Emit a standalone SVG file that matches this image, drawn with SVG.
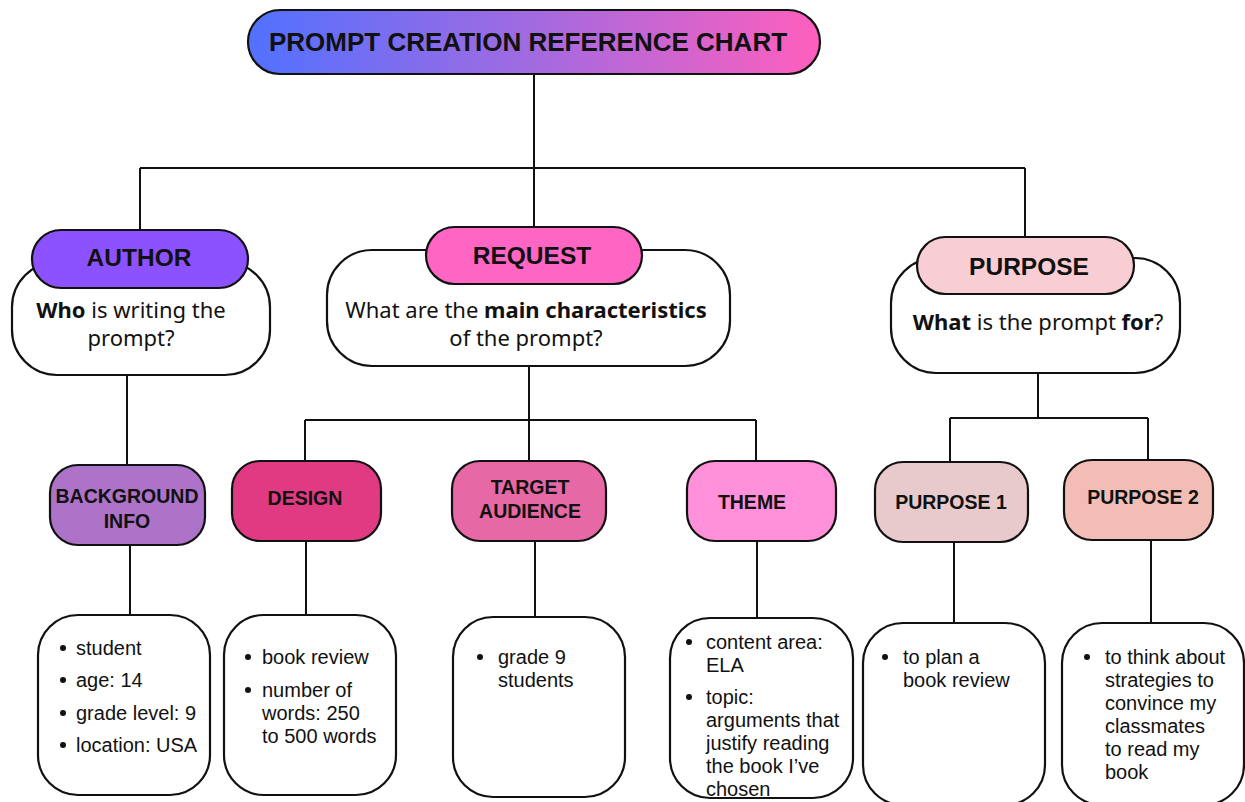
<svg xmlns="http://www.w3.org/2000/svg" width="1245" height="802" viewBox="0 0 1245 802">
<defs>
<linearGradient id="tg" x1="0" y1="0" x2="1" y2="0">
<stop offset="0" stop-color="#5271ff"/>
<stop offset="0.5" stop-color="#a36ae0"/>
<stop offset="1" stop-color="#ff5fbd"/>
</linearGradient>
</defs>
<style>
.b{stroke:#111;stroke-width:2.2;}
.w{fill:#fff;}
.h{font-family:"Liberation Sans",Arial,sans-serif;font-weight:bold;fill:#111;text-anchor:middle;}
.q{font-family:"Noto Sans","Open Sans",sans-serif;font-size:22px;fill:#111;text-anchor:middle;}
.t{font-family:"Liberation Sans",Arial,sans-serif;font-size:20px;fill:#111;}
.c{stroke:#111;stroke-width:2;fill:none;}
</style>
<rect width="1245" height="802" fill="#fff"/>
<g id="connectors">
<path class="c" d="M534 74V168M140 168H1025M140 168V230M534 168V228M1025 168V237"/>
<path class="c" d="M127 375V465"/>
<path class="c" d="M529 366V461M305 420H756M305 420V461M756 420V461"/>
<path class="c" d="M1038 373V418M950 418H1148M950 418V462M1148 418V460"/>
<path class="c" d="M130 545V615M306 541V617M535 541V617M757 541V618M954 542V623M1151 540V623"/>
</g>
<g id="title">
<rect class="b" x="248" y="10" width="572" height="64" rx="32" fill="url(#tg)"/>
<text class="h" x="528" y="51" font-size="26">PROMPT CREATION REFERENCE CHART</text>
</g>
<g id="author">
<rect class="b w" x="12" y="262" width="258" height="113" rx="45"/>
<text class="q" x="131" y="318"><tspan font-weight="bold">Who</tspan> is writing the</text>
<text class="q" x="131" y="346">prompt?</text>
<rect class="b" x="32" y="230" width="216" height="58" rx="29" fill="#8c52ff"/>
<text class="h" x="139" y="266" font-size="24.5">AUTHOR</text>
</g>
<g id="request">
<rect class="b w" x="327" y="250" width="403" height="116" rx="45"/>
<text class="q" x="526" y="318">What are the <tspan font-weight="bold">main characteristics</tspan></text>
<text class="q" x="526" y="346">of the prompt?</text>
<rect class="b" x="426" y="227" width="216" height="57" rx="28.5" fill="#ff66c4"/>
<text class="h" x="532" y="264" font-size="24.5">REQUEST</text>
</g>
<g id="purpose">
<rect class="b w" x="891" y="258" width="289" height="115" rx="45"/>
<text class="q" x="1038" y="330"><tspan font-weight="bold">What</tspan> is the prompt <tspan font-weight="bold">for</tspan>?</text>
<rect class="b" x="917" y="237" width="217" height="57" rx="28.5" fill="#f8cdd3"/>
<text class="h" x="1029" y="275" font-size="24.5">PURPOSE</text>
</g>
<g id="background-info">
<rect class="b" x="50" y="465" width="155" height="80" rx="28" fill="#ad73c9"/>
<text class="h" x="127" y="503" font-size="19.5">BACKGROUND</text>
<text class="h" x="127" y="528" font-size="19.5">INFO</text>
</g>
<g id="design">
<rect class="b" x="232" y="461" width="149" height="80" rx="28" fill="#e03a83"/>
<text class="h" x="305" y="505" font-size="19.5">DESIGN</text>
</g>
<g id="target-audience">
<rect class="b" x="452" y="461" width="154" height="80" rx="28" fill="#e669a6"/>
<text class="h" x="530" y="494" font-size="19.5">TARGET</text>
<text class="h" x="530" y="518" font-size="19.5">AUDIENCE</text>
</g>
<g id="theme">
<rect class="b" x="687" y="461" width="149" height="80" rx="28" fill="#ff90d9"/>
<text class="h" x="752" y="509" font-size="19.5">THEME</text>
</g>
<g id="purpose-1">
<rect class="b" x="875" y="462" width="153" height="80" rx="28" fill="#e8c9cc"/>
<text class="h" x="951" y="509" font-size="19.5">PURPOSE 1</text>
</g>
<g id="purpose-2">
<rect class="b" x="1064" y="460" width="149" height="80" rx="28" fill="#f2bdb4"/>
<text class="h" x="1143" y="504" font-size="19.5">PURPOSE 2</text>
</g>
<g id="background-list">
<rect class="b w" x="38" y="615" width="172" height="180" rx="40"/>
<g class="t">
<circle cx="63" cy="648" r="3"/><text x="76" y="655">student</text>
<circle cx="63" cy="680" r="3"/><text x="76" y="687">age: 14</text>
<circle cx="63" cy="713" r="3"/><text x="76" y="720">grade level: 9</text>
<circle cx="63" cy="745" r="3"/><text x="76" y="752">location: USA</text>
</g>
</g>
<g id="design-list">
<rect class="b w" x="224" y="615" width="172" height="180" rx="40"/>
<g class="t">
<circle cx="248" cy="657" r="3"/><text x="262" y="664">book review</text>
<circle cx="248" cy="690" r="3"/><text x="262" y="697">number of</text>
<text x="262" y="720">words: 250</text>
<text x="262" y="743">to 500 words</text>
</g>
</g>
<g id="target-list">
<rect class="b w" x="453" y="617" width="172" height="180" rx="40"/>
<g class="t">
<circle cx="480" cy="657" r="3"/><text x="498" y="664">grade 9</text>
<text x="498" y="687">students</text>
</g>
</g>
<g id="theme-list">
<rect class="b w" x="670" y="618" width="183" height="180" rx="40"/>
<g class="t">
<circle cx="689" cy="642" r="3"/><text x="706" y="649">content area:</text>
<text x="706" y="672">ELA</text>
<circle cx="689" cy="697" r="3"/><text x="706" y="704">topic:</text>
<text x="706" y="727">arguments that</text>
<text x="706" y="750">justify reading</text>
<text x="706" y="773">the book I’ve</text>
<text x="706" y="796">chosen</text>
</g>
</g>
<g id="purpose1-list">
<rect class="b w" x="863" y="623" width="182" height="182" rx="40"/>
<g class="t">
<circle cx="885" cy="657" r="3"/><text x="903" y="664">to plan a</text>
<text x="903" y="687">book review</text>
</g>
</g>
<g id="purpose2-list">
<rect class="b w" x="1062" y="623" width="182" height="182" rx="40"/>
<g class="t">
<circle cx="1087" cy="657" r="3"/><text x="1105" y="664">to think about</text>
<text x="1105" y="687">strategies to</text>
<text x="1105" y="710">convince my</text>
<text x="1105" y="733">classmates</text>
<text x="1105" y="756">to read my</text>
<text x="1105" y="779">book</text>
</g>
</g>
</svg>
